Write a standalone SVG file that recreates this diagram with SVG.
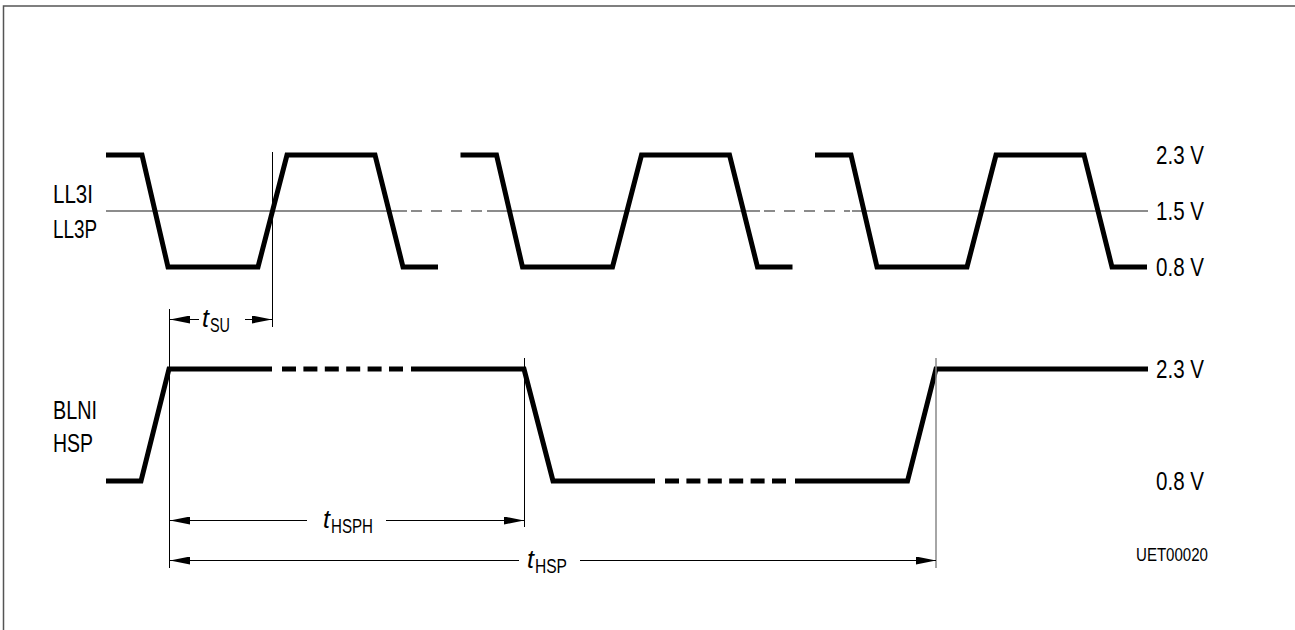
<svg xmlns="http://www.w3.org/2000/svg" width="1295" height="630" viewBox="0 0 1295 630">
<style>
.bg{fill:#fff}
.frame{stroke:#555;stroke-width:1.5;fill:none}
.wave{stroke:#000;stroke-width:5;fill:none;stroke-linejoin:miter;stroke-linecap:butt}
.wdash{stroke:#000;stroke-width:5;fill:none;stroke-dasharray:14 7.4}
.mid{stroke:#666;stroke-width:1.5;fill:none}
.middash{stroke:#666;stroke-width:1.5;fill:none;stroke-dasharray:11 9}
.thin{stroke:#000;stroke-width:1;fill:none}
.grey{stroke:#888;stroke-width:1.5;fill:none}
.dim{stroke:#000;stroke-width:1;fill:none}
.lbl{font-family:"Liberation Sans Narrow","Liberation Sans",Arial,sans-serif;font-size:25px;fill:#000}
.sym{font-family:"Liberation Sans Narrow","Liberation Sans",Arial,sans-serif;font-size:25px;font-style:italic;fill:#000}
.sub{font-family:"Liberation Sans Narrow","Liberation Sans",Arial,sans-serif;font-size:20px;fill:#000}
.code{font-family:"Liberation Sans Narrow","Liberation Sans",Arial,sans-serif;font-size:19px;fill:#000}
</style>
<defs>
<marker id="arr" viewBox="0 0 20 8" refX="20" refY="4" markerWidth="20" markerHeight="8" markerUnits="userSpaceOnUse" orient="auto-start-reverse">
<path d="M0,0 L20,4 L0,8 z" fill="#000"/>
</marker>
</defs>
<rect class="bg" x="0" y="0" width="1295" height="630"/>
<g id="frame">
<path class="frame" d="M3.5,630 L3.5,6 L1295,6"/>
</g>
<g id="threshold">
<line class="mid" x1="106" y1="211" x2="407" y2="211"/>
<line class="middash" x1="411" y1="211" x2="485" y2="211"/>
<line class="mid" x1="487" y1="211" x2="760" y2="211"/>
<line class="middash" x1="764" y1="211" x2="850" y2="211"/>
<line class="mid" x1="852" y1="211" x2="1148" y2="211"/>
</g>
<g id="signal-ll3">
<polyline class="wave" points="106,155 142,155 168,267 258,267 287,155 375,155 403,267 438,267"/>
<polyline class="wave" points="460.5,155 496.5,155 522.5,267 612.5,267 641.5,155 729.5,155 757.5,267 792.5,267"/>
<polyline class="wave" points="815,155 851,155 877,267 967,267 996,155 1084,155 1112,267 1147,267"/>
</g>
<g id="signal-blni">
<polyline class="wave" points="106,481 141,481 169,369 272,369"/>
<line class="wdash" x1="282" y1="369" x2="403" y2="369"/>
<polyline class="wave" points="411,369 524,369 553,481 655,481"/>
<line class="wdash" x1="665" y1="481" x2="786" y2="481"/>
<polyline class="wave" points="795,481 907.5,481 936,369 1148,369"/>
</g>
<g id="connectors">
<line class="thin" x1="272.5" y1="152" x2="272.5" y2="327"/>
<line class="thin" x1="169.5" y1="309" x2="169.5" y2="568"/>
<line class="thin" x1="524.5" y1="358" x2="524.5" y2="527"/>
<line class="grey" x1="936" y1="358" x2="936" y2="568"/>
<line class="dim" x1="199" y1="319.5" x2="170" y2="319.5" marker-end="url(#arr)"/>
<line class="dim" x1="245" y1="319.5" x2="272" y2="319.5" marker-end="url(#arr)"/>
<line class="dim" x1="307" y1="520.5" x2="170" y2="520.5" marker-end="url(#arr)"/>
<line class="dim" x1="386" y1="520.5" x2="524" y2="520.5" marker-end="url(#arr)"/>
<line class="dim" x1="519" y1="560.5" x2="170" y2="560.5" marker-end="url(#arr)"/>
<line class="dim" x1="580" y1="560.5" x2="936" y2="560.5" marker-end="url(#arr)"/>
</g>
<g id="labels">
<text class="lbl" x="53" y="203" textLength="40" lengthAdjust="spacingAndGlyphs">LL3I</text>
<text class="lbl" x="53" y="238" textLength="44" lengthAdjust="spacingAndGlyphs">LL3P</text>
<text class="lbl" x="53" y="419" textLength="44" lengthAdjust="spacingAndGlyphs">BLNI</text>
<text class="lbl" x="53" y="452" textLength="40" lengthAdjust="spacingAndGlyphs">HSP</text>
<text class="lbl" x="1156" y="164" textLength="48" lengthAdjust="spacingAndGlyphs">2.3 V</text>
<text class="lbl" x="1156" y="220" textLength="48" lengthAdjust="spacingAndGlyphs">1.5 V</text>
<text class="lbl" x="1156" y="276" textLength="48" lengthAdjust="spacingAndGlyphs">0.8 V</text>
<text class="lbl" x="1156" y="378" textLength="48" lengthAdjust="spacingAndGlyphs">2.3 V</text>
<text class="lbl" x="1156" y="490" textLength="48" lengthAdjust="spacingAndGlyphs">0.8 V</text>
<text class="code" x="1136" y="561" textLength="72" lengthAdjust="spacingAndGlyphs">UET00020</text>
</g>
<g id="dim-labels">
<text class="sym" x="202" y="327">t</text><text class="sub" x="210" y="332" textLength="20" lengthAdjust="spacingAndGlyphs">SU</text>
<text class="sym" x="323" y="528">t</text><text class="sub" x="331" y="533" textLength="42" lengthAdjust="spacingAndGlyphs">HSPH</text>
<text class="sym" x="527" y="568">t</text><text class="sub" x="535" y="573" textLength="32" lengthAdjust="spacingAndGlyphs">HSP</text>
</g>
</svg>
